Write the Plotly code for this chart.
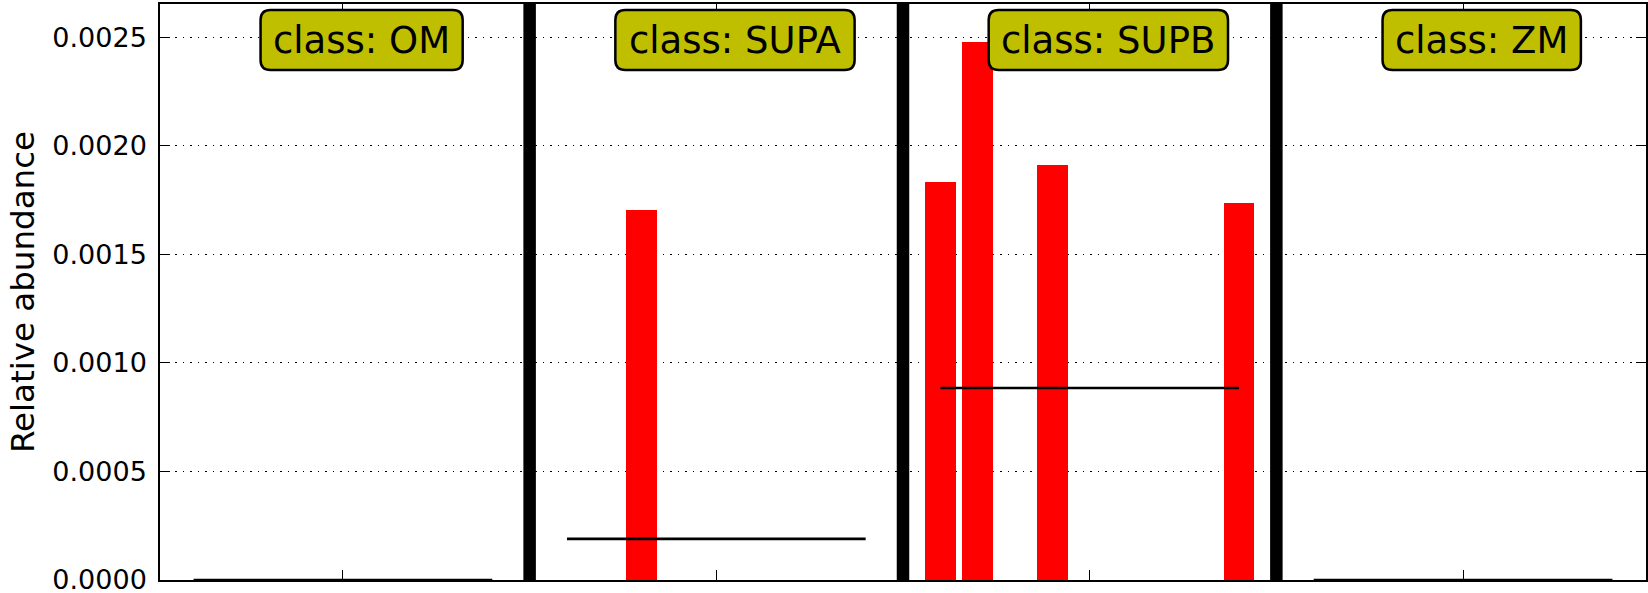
import numpy as np
import plotly.graph_objects as go

# ---------------- data ----------------
classes = ["OM", "SUPA", "SUPB", "ZM"]
om_values = [0, 0, 0, 0, 0, 0, 0, 0, 0]
supa_values = [0, 0, 0.001704, 0, 0, 0, 0, 0, 0]
supb_values = [0.001831, 0.002477, 0, 0.001912, 0, 0, 0, 0, 0.001737]
zm_values = [0, 0, 0, 0, 0, 0, 0, 0, 0]
class_values = [om_values, supa_values, supb_values, zm_values]
y_tick_values = [0.0000, 0.0005, 0.0010, 0.0015, 0.0020, 0.0025]
y_title = "Relative abundance"
label_prefix = "class: "

# ---------------- styling ----------------
FONT = "DejaVu Sans"
W, H = 1648, 593
ML, MR, MT, MB = 160, 2, 4, 13
BAR_COLOR = "#ff0000"
BOX_COLOR = "#bfbf00"
LABEL_SIZE = 37

# DejaVu Sans advance widths (em) for label box sizing
ADV = {"c": 0.5498, "l": 0.2778, "a": 0.6128, "s": 0.5210, ":": 0.3369,
       " ": 0.3179, "O": 0.7871, "M": 0.8628, "S": 0.6348, "U": 0.7319,
       "P": 0.6030, "A": 0.6841, "B": 0.6860, "Z": 0.6851}


def text_width(t, size):
    return sum(ADV.get(ch, 0.6) for ch in t) * size


def rounded_rect(w, top, bot, r):
    hw = w / 2
    return (f"M {-hw + r},{top} L {hw - r},{top} Q {hw},{top} {hw},{top - r} "
            f"L {hw},{bot + r} Q {hw},{bot} {hw - r},{bot} "
            f"L {-hw + r},{bot} Q {-hw},{bot} {-hw},{bot + r} "
            f"L {-hw},{top - r} Q {-hw},{top} {-hw + r},{top} Z")


# positions: each class has its samples followed by one separator slot
xs, ys, seps, centers, label_x, mean_segments = [], [], [], [], [], []
pos = 0
for ci, vals in enumerate(class_values):
    start = pos + 1
    p = [start + j for j in range(len(vals))]
    xs += p
    ys += list(vals)
    end = p[-1]
    sep = end + 1
    centers.append((pos + sep) / 2)
    label_x.append((start + sep) / 2)
    mean_segments.append((start, end, float(np.mean(vals))))
    if ci < len(class_values) - 1:
        seps.append(sep)
    pos = sep

x_min, x_max = 0.1, pos - 0.1
y_max = max(ys) * 1.071

fig = go.Figure()
fig.add_trace(go.Bar(x=xs, y=ys, width=0.82, marker=dict(color=BAR_COLOR, line=dict(width=0)),
                     hoverinfo="skip", showlegend=False))
for (a, b, m) in mean_segments:
    fig.add_trace(go.Scatter(x=[a, b], y=[m, m], mode="lines",
                             line=dict(color="black", width=2.6),
                             hoverinfo="skip", showlegend=False))

shapes = []
for s in seps:
    shapes.append(dict(type="line", xref="x", yref="paper", x0=s, x1=s, y0=0, y1=1,
                       line=dict(color="black", width=12.5), layer="above"))

annotations = []
for c, lx in zip(classes, label_x):
    txt = label_prefix + c
    bw = text_width(txt, LABEL_SIZE) + 25
    shapes.append(dict(type="path", xref="x", yref="paper", xsizemode="pixel",
                       ysizemode="pixel", xanchor=lx, yanchor=1,
                       path=rounded_rect(bw, -6, -66, 10),
                       fillcolor=BOX_COLOR, line=dict(color="black", width=2.5),
                       layer="above"))
    annotations.append(dict(text=txt, x=lx, xref="x", y=1, yref="paper",
                            yanchor="middle", xanchor="center", yshift=-36,
                            showarrow=False,
                            font=dict(family=FONT, size=LABEL_SIZE, color="black")))

fig.update_layout(
    width=W, height=H,
    margin=dict(l=ML, r=MR, t=MT, b=MB, pad=0, autoexpand=False),
    paper_bgcolor="white", plot_bgcolor="white",
    bargap=0, showlegend=False,
    shapes=shapes, annotations=annotations,
    font=dict(family=FONT, color="black"),
)
fig.update_xaxes(
    range=[x_min, x_max], tickvals=centers, showticklabels=False,
    ticks="inside", ticklen=10, tickwidth=1, tickcolor="black",
    showgrid=False, zeroline=False, automargin=False,
    showline=True, linecolor="black", linewidth=1.5, mirror="ticks",
)
fig.update_yaxes(
    range=[0, y_max], tickvals=y_tick_values, tickformat=".4f",
    ticks="inside", ticklen=10, tickwidth=1, tickcolor="black",
    tickfont=dict(family=FONT, size=27, color="black"),
    ticklabelstandoff=6, ticklabeloverflow="allow", automargin=False,
    showgrid=True, gridcolor="black", gridwidth=1, griddash="1.5px,6px",
    zeroline=False,
    showline=True, linecolor="black", linewidth=1.5, mirror="ticks",
    title=dict(text=y_title, font=dict(family=FONT, size=32.5, color="black"), standoff=8),
)

fig.write_html("out.html", config={"displayModeBar": False},
               post_script="document.body.style.margin='0px';")
